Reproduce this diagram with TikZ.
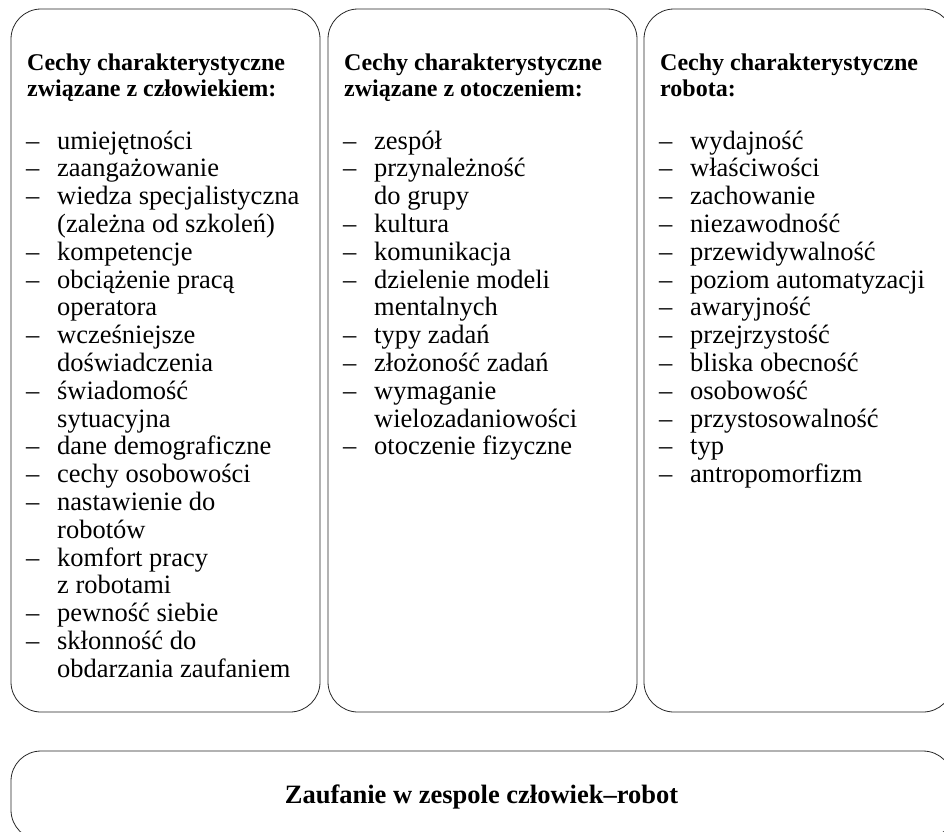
\documentclass[tikz,border=0pt]{standalone}
\usepackage{fontspec}
\setmainfont{Liberation Serif}
\usetikzlibrary{positioning}

\newcommand{\dashitem}{\strut\makebox[31pt][l]{–}}
\newcommand{\contline}{\strut\hspace*{31pt}}

\tikzset{
  colbox/.style={draw=black!85, line width=0.8pt, rounded corners=30pt, inner sep=0pt},
  headtxt/.style={anchor=north west, align=left, inner sep=0pt, font=\bfseries\fontsize{24}{26.8}\selectfont},
  listtxt/.style={anchor=north west, align=left, inner sep=0pt, font=\fontsize{26.5}{27.8}\selectfont},
  trusttxt/.style={anchor=base, inner sep=0pt, font=\bfseries\fontsize{26.5}{28}\selectfont}
}

\begin{document}
\begin{tikzpicture}[x=1pt, y=-1pt]
    \useasboundingbox (0,0) rectangle (944,831);
    \clip (0,0) rectangle (944,831);

    % Human box
    \draw[colbox] (11,9) rectangle (320,712);
    \node[headtxt] (humanhead) at (27,51.2) {\strut Cechy charakterystyczne\\związane z człowiekiem:};
    \node[listtxt] (humanlist) at (26,129.5) {\dashitem umiejętności\\
        \dashitem zaangażowanie\\
        \dashitem wiedza specjalistyczna\\
        \contline (zależna od szkoleń)\\
        \dashitem kompetencje\\
        \dashitem obciążenie pracą\\
        \contline operatora\\
        \dashitem wcześniejsze\\
        \contline doświadczenia\\
        \dashitem świadomość\\
        \contline sytuacyjna\\
        \dashitem dane demograficzne\\
        \dashitem cechy osobowości\\
        \dashitem nastawienie do\\
        \contline robotów\\
        \dashitem komfort pracy\\
        \contline z robotami\\
        \dashitem pewność siebie\\
        \dashitem skłonność do\\
        \contline obdarzania zaufaniem};

    % Environment box
    \draw[colbox] (328,9) rectangle (637,712);
    \node[headtxt] (envhead) at (344,51.2) {\strut Cechy charakterystyczne\\związane z otoczeniem:};
    \node[listtxt] (envlist) at (343,129.5) {\dashitem zespół\\
        \dashitem przynależność\\
        \contline do grupy\\
        \dashitem kultura\\
        \dashitem komunikacja\\
        \dashitem dzielenie modeli\\
        \contline mentalnych\\
        \dashitem typy zadań\\
        \dashitem złożoność zadań\\
        \dashitem wymaganie\\
        \contline wielozadaniowości\\
        \dashitem otoczenie fizyczne};

    % Robot box
    \draw[colbox] (644,9) rectangle (953,712);
    \node[headtxt] (robothead) at (660,51.2) {\strut Cechy charakterystyczne\\robota:};
    \node[listtxt] (robotlist) at (659,129.5) {\dashitem wydajność\\
        \dashitem właściwości\\
        \dashitem zachowanie\\
        \dashitem niezawodność\\
        \dashitem przewidywalność\\
        \dashitem poziom automatyzacji\\
        \dashitem awaryjność\\
        \dashitem przejrzystość\\
        \dashitem bliska obecność\\
        \dashitem osobowość\\
        \dashitem przystosowalność\\
        \dashitem typ\\
        \dashitem antropomorfizm};

    % Trust box
    \draw[colbox] (11,751) rectangle (953,840);
    \node[trusttxt] (trust) at (481.5,803) {Zaufanie w zespole człowiek–robot};
\end{tikzpicture}
\end{document}
